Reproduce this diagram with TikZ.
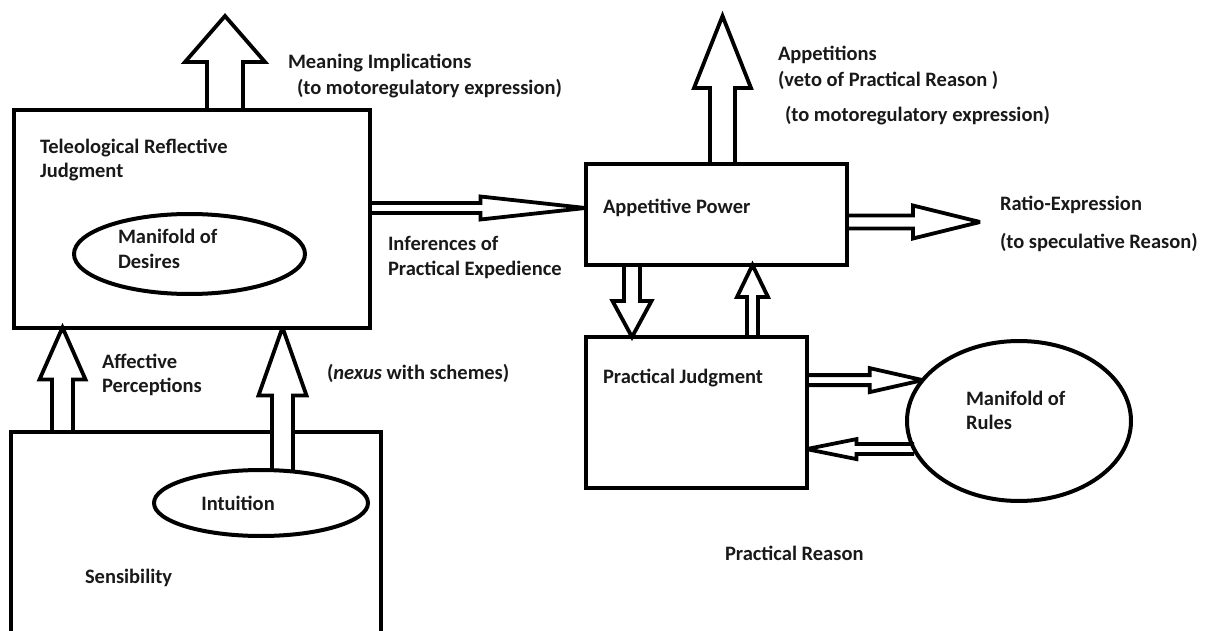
\documentclass[tikz,border=0pt]{standalone}
\usepackage{fontspec}
\setmainfont{Carlito}
\usetikzlibrary{calc,shapes.geometric}
\pgfdeclarelayer{background}
\pgfdeclarelayer{front}
\pgfsetlayers{background,main,front}

% Hollow block arrow: start, tip, shaft half-width, head half-width, head length
\newcommand\blockarrow[5]{%
  \coordinate (ba-s) at #1;
  \coordinate (ba-t) at #2;
  \coordinate (ba-h) at ($(ba-t)!#5!(ba-s)$);
  \coordinate (ba-1) at ($(ba-s)!#3!90:(ba-t)$);
  \coordinate (ba-2) at ($(ba-h)!#3!90:(ba-t)$);
  \coordinate (ba-3) at ($(ba-h)!#4!90:(ba-t)$);
  \coordinate (ba-4) at ($(ba-h)!#4!-90:(ba-t)$);
  \coordinate (ba-5) at ($(ba-h)!#3!-90:(ba-t)$);
  \coordinate (ba-6) at ($(ba-s)!#3!-90:(ba-t)$);
  \fill[white] (ba-1) -- (ba-2) -- (ba-3) -- (ba-t) -- (ba-4) -- (ba-5) -- (ba-6) -- cycle;
  \draw[arrowoutline] (ba-1) -- (ba-2) -- (ba-3) -- (ba-t) -- (ba-4) -- (ba-5) -- (ba-6);
}

\tikzset{
  box/.style={draw, line width=4pt, rectangle, inner sep=0pt, outer sep=0pt},
  oval/.style={draw, line width=4pt, ellipse, inner sep=0pt, outer sep=0pt},
  arrowoutline/.style={line width=3.8pt, line join=miter, miter limit=3},
  lbl/.style={inner sep=0pt, outer sep=0pt, anchor=west, align=left,
    font=\fontsize{20.5}{24.5}\selectfont\bfseries, text=black!90},
}

\begin{document}
\begin{tikzpicture}[x=1pt, y=-1pt]
\useasboundingbox (0,0) rectangle (1210,631);
\clip (0,0) rectangle (1210,631);

% boxes
\node[box, minimum width=356pt, minimum height=217pt] (tele) at (192,219) {};
\node[box, minimum width=261pt, minimum height=101pt] (app) at (716,214.5) {};
\node[box, minimum width=221pt, minimum height=151pt] (pj) at (696,412.5) {};
\node[box, minimum width=370pt, minimum height=228pt] (sens) at (195.5,546) {};

% ovals
\node[oval, minimum width=231pt, minimum height=80pt] (desires) at (189.5,254) {};
\node[oval, minimum width=224pt, minimum height=160pt] (rules) at (1019,421) {};
\begin{pgfonlayer}{front}
\node[oval, minimum width=214pt, minimum height=66pt] (intu) at (261,503) {};
\end{pgfonlayer}

% free ends and arrow axes
\coordinate (mitip) at (225,16);
\coordinate (aptip) at (722.5,16);
\coordinate (inftip) at (585.5,208);
\coordinate (ratip) at (980,222);
\coordinate (dnax) at (632,300);
\coordinate (upax) at (752.5,300);
\coordinate (afax) at (62.5,380);
\coordinate (nxax) at (282.5,380);

\begin{pgfonlayer}{background}
\blockarrow{(tele.north -| mitip)}{(mitip)}{18pt}{40pt}{46pt}
\blockarrow{(app.north -| aptip)}{(aptip)}{12.5pt}{28.5pt}{72pt}
\blockarrow{(tele.east |- inftip)}{(app.west |- inftip)}{5pt}{11.5pt}{105pt}
\blockarrow{(app.east |- ratip)}{(ratip)}{6.5pt}{16.5pt}{67pt}
\blockarrow{(app.south -| dnax)}{(pj.north -| dnax)}{8pt}{19.5pt}{36pt}
\blockarrow{(pj.north -| upax)}{(app.south -| upax)}{5.5pt}{15.5pt}{32pt}
\blockarrow{(pj.east |- rules.157)}{(rules.157)}{5pt}{12pt}{53pt}
\blockarrow{(rules.195)}{(pj.east |- rules.195)}{5pt}{10pt}{50pt}
\blockarrow{(sens.north -| afax)}{(tele.south -| afax)}{10.5pt}{23pt}{52pt}
\end{pgfonlayer}
\blockarrow{(intu.north -| nxax)}{(tele.south -| nxax)}{10.5pt}{24pt}{68pt}

% labels
\node[lbl] (t-tele) at (40,160) {Teleological Reflective\\Judgment};
\node[lbl] (t-mi1) at (288,63) {Meaning Implications};
\node[lbl] (t-mi2) at (297,89) {(to motoregulatory expression)};
\node[lbl] (t-ap1) at (778,55) {Appetitions};
\node[lbl] (t-ap2) at (778,80) {(veto of Practical Reason )};
\node[lbl] (t-ap3) at (785,116) {(to motoregulatory expression)};
\node[lbl] (t-app) at (603,208) {Appetitive Power};
\node[lbl] (t-inf) at (388,257.5) {Inferences of\\Practical Expedience};
\node[lbl] (t-ra1) at (1000,205) {Ratio-Expression};
\node[lbl] (t-ra2) at (1000,243) {(to speculative Reason)};
\node[lbl] (t-des) at (118,249) {Manifold of\\Desires};
\node[lbl] (t-aff) at (102,375) {Affective\\Perceptions};
\node[lbl] (t-nx) at (327,373) {(\textit{nexus} with schemes)};
\node[lbl, anchor=center] (t-intu) at (238,503) {Intuition};
\node[lbl] (t-sens) at (85,578) {Sensibility};
\node[lbl] (t-pj) at (603,378) {Practical Judgment};
\node[lbl] (t-rul) at (966,410.5) {Manifold of\\Rules};
\node[lbl] (t-pr) at (725,553) {Practical Reason};
\end{tikzpicture}
\end{document}
